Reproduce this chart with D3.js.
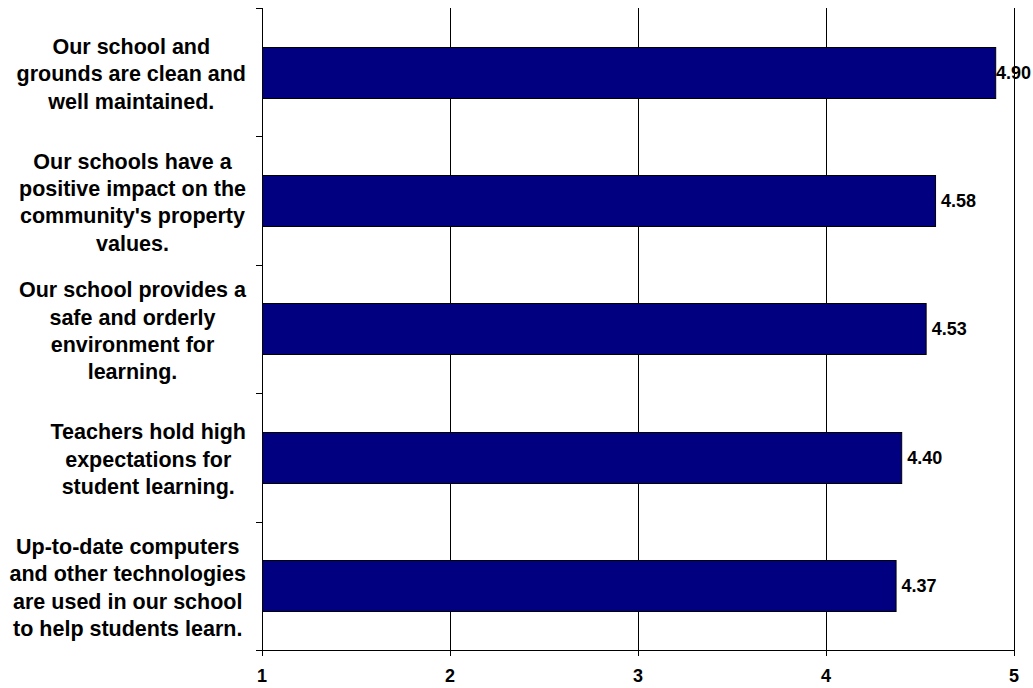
<!DOCTYPE html>
<html>
<head>
<meta charset="utf-8">
<script src="https://cdn.jsdelivr.net/npm/d3@7"></script>
<style>
  html, body { margin: 0; padding: 0; background: #fff; }
  svg { display: block; }
  text { font-family: Arial, "Liberation Sans", sans-serif; font-weight: bold; fill: #000; }
</style>
</head>
<body>
<svg id="chart" width="1033" height="688"></svg>
<script>
// Survey statements (top to bottom) and their mean ratings
const categories = [
  "Our school and|grounds are clean and|well maintained.",
  "Our schools have a|positive impact on the|community's property|values.",
  "Our school provides a|safe and orderly|environment for|learning.",
  "Teachers hold high|expectations for|student learning.",
  "Up-to-date computers|and other technologies|are used in our school|to help students learn."
];
const values = [4.90, 4.58, 4.53, 4.40, 4.37];
const tickValues = [1, 2, 3, 4, 5];

const W = 1033, H = 688;
const plot = { left: 262, right: 1014, top: 8, bottom: 650 };
const labelRight = 246;

const svg = d3.select("#chart");

const x = d3.scaleLinear().domain([1, 5]).range([plot.left, plot.right]);
const y = d3.scaleBand()
  .domain(categories)
  .range([plot.top, plot.bottom])
  .paddingInner(0.6)
  .paddingOuter(0.3);

// vertical gridlines
svg.append("g")
  .selectAll("line")
  .data(tickValues.slice(1))
  .join("line")
  .attr("x1", d => Math.round(x(d)) + 0.5)
  .attr("x2", d => Math.round(x(d)) + 0.5)
  .attr("y1", plot.top)
  .attr("y2", plot.bottom)
  .attr("stroke", "#000")
  .attr("stroke-width", 1);

// bars
svg.append("g")
  .selectAll("rect")
  .data(values)
  .join("rect")
  .attr("x", x(1) + 0.5)
  .attr("y", (d, i) => Math.round(y(categories[i])) + 0.5)
  .attr("width", d => x(d) - x(1))
  .attr("height", Math.round(y.bandwidth()))
  .attr("fill", "#000080")
  .attr("stroke", "#000")
  .attr("stroke-width", 1);

// value labels (kept inside the right edge)
const vl = svg.append("g")
  .selectAll("text")
  .data(values)
  .join("text")
  .attr("y", (d, i) => y(categories[i]) + y.bandwidth() / 2)
  .attr("dy", "0.35em")
  .style("font-size", "18px")
  .text(d => d.toFixed(2));
vl.each(function(d) {
  const w = this.getComputedTextLength();
  const xp = Math.min(x(d) + 6, W - 2 - w);
  d3.select(this).attr("x", xp);
});

// left (category) axis: line and boundary ticks
const yAxis = svg.append("g");
yAxis.append("line")
  .attr("x1", plot.left + 0.5).attr("x2", plot.left + 0.5)
  .attr("y1", plot.top).attr("y2", plot.bottom)
  .attr("stroke", "#000");
const bounds = d3.range(categories.length + 1).map(i => plot.top + i * (plot.bottom - plot.top) / categories.length);
yAxis.selectAll("line.tk")
  .data(bounds)
  .join("line")
  .attr("class", "tk")
  .attr("x1", plot.left - 6).attr("x2", plot.left)
  .attr("y1", d => Math.round(d) + 0.5).attr("y2", d => Math.round(d) + 0.5)
  .attr("stroke", "#000");

// category labels: each block is right-aligned to the axis, lines centred within it
const lineH = 27.3;
const catG = svg.append("g")
  .selectAll("text")
  .data(categories)
  .join("text")
  .attr("text-anchor", "middle")
  .style("font-size", "21.5px");
catG.each(function(c) {
  const lines = c.split("|");
  const cy = y(c) + y.bandwidth() / 2 + 1.5;
  const t = d3.select(this);
  const spans = lines.map((ln, k) =>
    t.append("tspan")
      .attr("y", cy + (k - (lines.length - 1) / 2) * lineH)
      .attr("dy", "0.36em")
      .text(ln));
  const maxW = d3.max(spans, s => s.node().getComputedTextLength());
  const cx = labelRight - maxW / 2;
  spans.forEach(s => s.attr("x", cx));
});

// bottom (value) axis
const xAxis = svg.append("g");
xAxis.append("line")
  .attr("x1", plot.left - 6).attr("x2", plot.right + 0.5)
  .attr("y1", plot.bottom + 0.5).attr("y2", plot.bottom + 0.5)
  .attr("stroke", "#000");
xAxis.selectAll("line.tk")
  .data(tickValues)
  .join("line")
  .attr("class", "tk")
  .attr("x1", d => Math.round(x(d)) + 0.5).attr("x2", d => Math.round(x(d)) + 0.5)
  .attr("y1", plot.bottom).attr("y2", plot.bottom + 6)
  .attr("stroke", "#000");
xAxis.selectAll("text")
  .data(tickValues)
  .join("text")
  .attr("x", d => x(d))
  .attr("y", 676)
  .attr("dy", "0.35em")
  .attr("text-anchor", "middle")
  .style("font-size", "18px")
  .text(d => d);
</script>
</body>
</html>
